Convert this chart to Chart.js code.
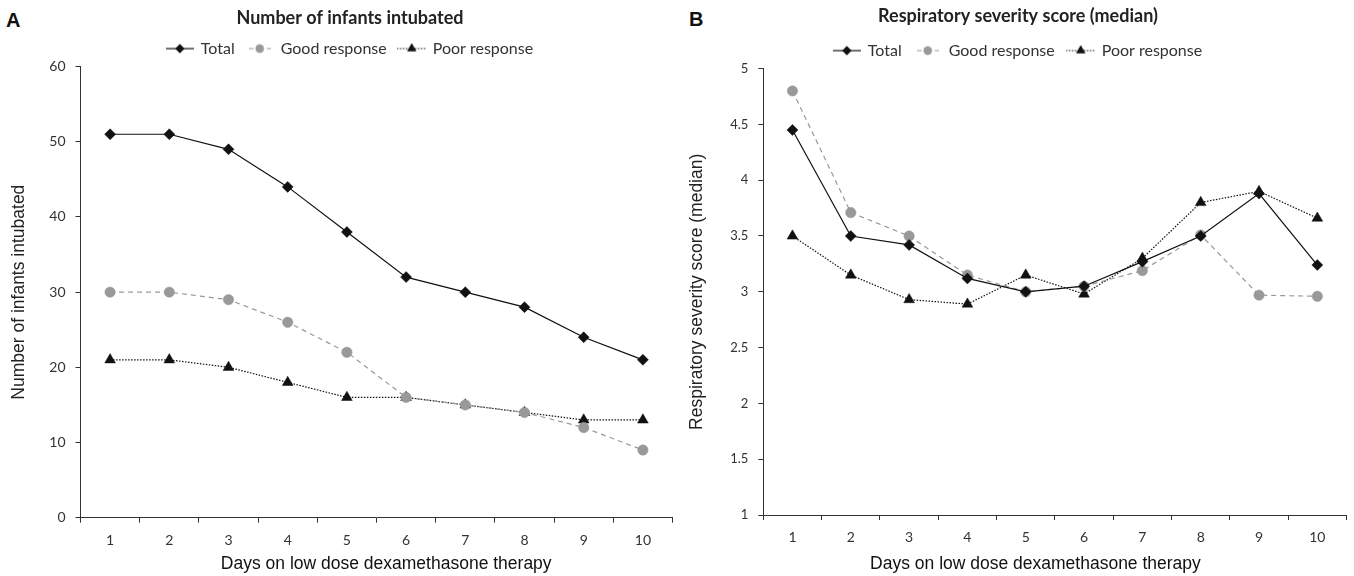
<!DOCTYPE html>
<html>
<head>
<meta charset="utf-8">
<script src="https://cdn.jsdelivr.net/npm/chart.js@4.4.0/dist/chart.umd.min.js"></script>
<style>
body { margin: 0; background: #fff; overflow: hidden; }
#wrap { position: relative; width: 1354px; height: 576px; overflow: hidden; }
.box { position: absolute; top: 0; height: 576px; }
.panel { position: absolute; font: bold 20px "Liberation Sans", Arial, sans-serif; color: #111; }
</style>
</head>
<body>
<div id="wrap">
  <div class="panel" style="left:6px;top:9px">A</div>
  <div class="panel" style="left:689px;top:8px">B</div>
  <div class="box" style="left:0;width:700px"><canvas id="chartA"></canvas></div>
  <div class="box" style="left:678px;width:680px"><canvas id="chartB"></canvas></div>
</div>
<script>
// Data
const days = ['1', '2', '3', '4', '5', '6', '7', '8', '9', '10'];
const seriesNames = ['Total', 'Good response', 'Poor response'];

// Panel A: number of infants intubated
const intubatedTotal = [51, 51, 49, 44, 38, 32, 30, 28, 24, 21];
const intubatedGood = [30, 30, 29, 26, 22, 16, 15, 14, 12, 9];
const intubatedPoor = [21, 21, 20, 18, 16, 16, 15, 14, 13, 13];

// Panel B: respiratory severity score (median)
const severityTotal = [4.45, 3.5, 3.42, 3.12, 3.0, 3.05, 3.27, 3.5, 3.88, 3.24];
const severityGood = [4.8, 3.71, 3.5, 3.15, 3.0, 3.05, 3.19, 3.51, 2.97, 2.96];
const severityPoor = [3.5, 3.15, 2.93, 2.89, 3.15, 2.98, 3.3, 3.8, 3.9, 3.66];

const axisColor = '#333';
const textColor = '#333';

// line + marker style for each series
const styles = [
    { color: '#111', dash: [], point: 'rectRot', radius: 5.5, iconW: 28 },
    { color: '#999', dash: [5, 4], point: 'circle', radius: 5.2, iconW: 22 },
    { color: '#111', dash: [1.5, 1.5], point: 'triangle', radius: 6.2, iconW: 30 }
];

// small canvas used as legend icon: line with the marker in the middle
function legendIcon(st) {
    const c = document.createElement('canvas');
    c.width = st.iconW;
    c.height = 14;
    const g = c.getContext('2d');
    g.strokeStyle = st.color;
    g.lineWidth = 1.2;
    g.setLineDash(st.dash);
    g.beginPath();
    g.moveTo(0, 7);
    g.lineTo(st.iconW, 7);
    g.stroke();
    g.setLineDash([]);
    g.fillStyle = st.color;
    g.beginPath();
    Chart.helpers.drawPoint(g, { pointStyle: st.point, radius: st.radius - 1, rotation: 0, borderWidth: 0 }, st.iconW / 2, 7);
    g.fill();
    return c;
}

function makeDatasets(values) {
    return values.map((v, i) => ({
        label: seriesNames[i],
        data: v,
        borderColor: styles[i].color,
        backgroundColor: styles[i].color,
        borderWidth: 1.2,
        borderDash: styles[i].dash,
        pointStyle: styles[i].point,
        pointRadius: styles[i].radius,
        pointHoverRadius: styles[i].radius,
        pointBackgroundColor: styles[i].color,
        pointBorderColor: styles[i].color,
        pointBorderWidth: 0.5,
        tension: 0
    }));
}

function makeChart(id, p) {
    const icons = styles.map(legendIcon);
    return new Chart(document.getElementById(id), {
        type: 'line',
        data: { labels: days, datasets: makeDatasets(p.values) },
        options: {
            responsive: true,
            maintainAspectRatio: false,
            animation: false,
            layout: { padding: 0 },
            plugins: {
                title: {
                    display: true,
                    text: p.title,
                    color: '#222',
                    font: { family: 'Lato', size: 18, weight: 'bold' },
                    padding: p.titlePad
                },
                legend: {
                    display: true,
                    labels: {
                        usePointStyle: true,
                        pointStyleWidth: 26,
                        padding: p.legendPad,
                        color: textColor,
                        font: { family: 'Lato', size: 16 },
                        generateLabels: chart => chart.data.datasets.map((ds, i) => ({
                            text: ds.label,
                            pointStyle: icons[i],
                            fillStyle: ds.borderColor,
                            strokeStyle: ds.borderColor,
                            lineWidth: 0,
                            fontColor: textColor,
                            datasetIndex: i
                        }))
                    }
                },
                tooltip: { enabled: false }
            },
            scales: {
                x: {
                    type: 'category',
                    offset: true,
                    grid: { offset: true, drawOnChartArea: false, drawTicks: true, tickLength: 5, color: axisColor },
                    border: { color: axisColor, width: 1 },
                    ticks: { padding: 9, color: textColor, font: { family: 'Lato', size: 14 }, maxRotation: 0 },
                    title: {
                        display: true,
                        text: p.xTitle,
                        color: '#111',
                        font: { family: 'Liberation Sans', size: 17.5 },
                        padding: { top: 2, bottom: 1 }
                    },
                    afterFit: s => { s.height = p.xHeight; }
                },
                y: {
                    min: p.yMin,
                    max: p.yMax,
                    grid: { drawOnChartArea: false, drawTicks: true, tickLength: 5, color: axisColor },
                    border: { color: axisColor, width: 1 },
                    ticks: {
                        stepSize: p.yStep,
                        padding: 10,
                        color: textColor,
                        font: { family: 'Lato', size: p.yTickSize },
                        callback: v => String(Math.round(v * 10) / 10)
                    },
                    title: {
                        display: true,
                        text: p.yTitle,
                        color: '#222',
                        font: { family: 'Liberation Sans', size: 17.5 },
                        padding: { top: 9, bottom: 0 }
                    },
                    afterFit: s => { s.width = p.leftW; }
                },
                // empty right axis, only reserves space so title and legend sit where the original has them
                yr: {
                    position: 'right',
                    display: true,
                    grid: { display: false },
                    border: { display: false },
                    ticks: { display: false },
                    afterFit: s => { s.width = p.rightW; }
                }
            }
        }
    });
}

document.addEventListener('DOMContentLoaded', function() {
    makeChart('chartA', {
        title: 'Number of infants intubated',
        yTitle: 'Number of infants intubated',
        xTitle: '    Days on low dose dexamethasone therapy',
        values: [intubatedTotal, intubatedGood, intubatedPoor],
        yMin: 0, yMax: 60, yStep: 10, yTickSize: 14,
        leftW: 80.5, rightW: 27.5, xHeight: 58.3,
        titlePad: { top: 7, bottom: 0 }, legendPad: 12
    });
    makeChart('chartB', {
        title: 'Respiratory severity score (median)',
        yTitle: 'Respiratory severity score (median)',
        xTitle: 'Days on low dose dexamethasone therapy        ',
        values: [severityTotal, severityGood, severityPoor],
        yMin: 1, yMax: 5, yStep: 0.5, yTickSize: 13,
        leftW: 85.3, rightW: 11.5, xHeight: 61,
        titlePad: { top: 5, bottom: 3 }, legendPad: 13
    });
});
</script>
</body>
</html>
